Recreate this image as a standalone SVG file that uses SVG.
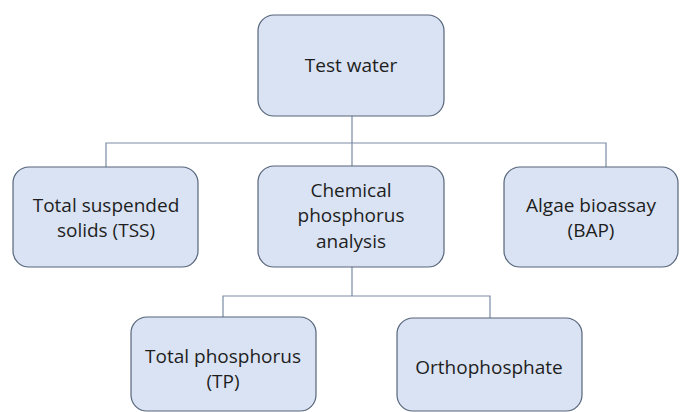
<svg xmlns="http://www.w3.org/2000/svg" width="680" height="412" viewBox="0 0 680 412">
<style>
.box{fill:#dae3f3;stroke:#56657a;stroke-width:1.2}
.lbl{font-family:"Open Sans","Liberation Sans",sans-serif;font-size:19px;fill:#1e1e1e;text-anchor:middle}
.conn{fill:none;stroke:#7a8ba3;stroke-width:1.2}
</style>
<rect width="680" height="412" fill="#ffffff"/>
<g id="connectors">
<path class="conn" d="M352 116 V166 M106 167 V143 H606 V167"/>
<path class="conn" d="M352 267 V296 M223 317 V296 H490 V318"/>
</g>
<g id="test-water">
<rect class="box" x="258" y="15" width="186" height="101" rx="16"/>
<text class="lbl" x="351" y="72">Test water</text>
</g>
<g id="tss">
<rect class="box" x="13" y="167" width="185" height="100" rx="16"/>
<text class="lbl" x="106" y="212">Total suspended</text>
<text class="lbl" x="106" y="237">solids (TSS)</text>
</g>
<g id="chemical">
<rect class="box" x="258" y="166" width="186" height="101" rx="16"/>
<text class="lbl" x="351" y="197">Chemical</text>
<text class="lbl" x="351" y="222">phosphorus</text>
<text class="lbl" x="351" y="248">analysis</text>
</g>
<g id="algae">
<rect class="box" x="504" y="167" width="174" height="100" rx="16"/>
<text class="lbl" x="591" y="212">Algae bioassay</text>
<text class="lbl" x="591" y="237">(BAP)</text>
</g>
<g id="tp">
<rect class="box" x="131" y="317" width="185" height="94" rx="16"/>
<text class="lbl" x="223" y="363">Total phosphorus</text>
<text class="lbl" x="223" y="388">(TP)</text>
</g>
<g id="ortho">
<rect class="box" x="397" y="318" width="185" height="93" rx="16"/>
<text class="lbl" x="489" y="374">Orthophosphate</text>
</g>
</svg>
